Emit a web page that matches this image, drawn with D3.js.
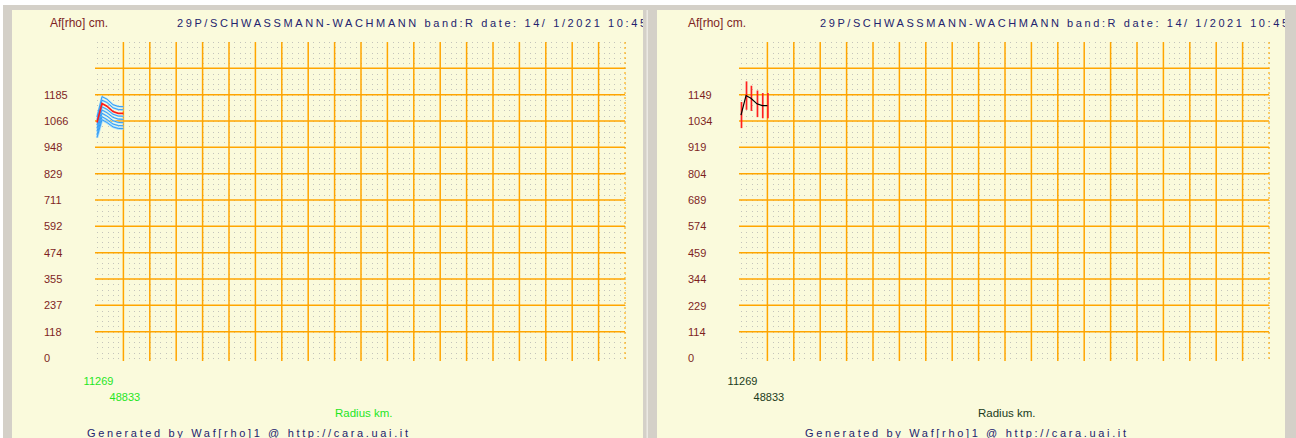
<!DOCTYPE html>
<html>
<head>
<meta charset="utf-8">
<script src="https://cdn.jsdelivr.net/npm/d3@7/dist/d3.min.js"></script>
<style>
  html, body { margin: 0; padding: 0; background: #ffffff; }
  svg { display: block; }
  text { font-family: "Liberation Sans", Arial, sans-serif; }
</style>
</head>
<body>
<svg id="chart" width="1296" height="438"></svg>
<script>
// ---------------- DATA ----------------
const titleText = "29P/SCHWASSMANN-WACHMANN band:R date: 14/ 1/2021 10:45";
const yAxisTitle = "Af[rho] cm.";
const xAxisTitle = "Radius km.";
const footerText = "Generated by Waf[rho]1 @ http://cara.uai.it";

// radii of the measured points (km)
const radii = [11269, 18400, 25400, 34000, 41500, 48833];
// x tick labels (first and last radius)
const xTickValues = [11269, 48833];

// mean Af[rho] profile (cm)
const afMean = [1060, 1145, 1133, 1109, 1101, 1101];
// error half-widths for the right panel
const afErr = [57, 62, 55, 58, 55, 55];

// family of Af[rho] profiles drawn in blue on the left panel
const afBlue1 = [1085, 1176, 1165, 1140, 1132, 1131];
const afBlue2 = [1072, 1160, 1150, 1126, 1118, 1117];
const afBlue3 = [1048, 1130, 1119, 1097, 1089, 1088];
const afBlue4 = [1034, 1116, 1104, 1083, 1075, 1074];
const afBlue5 = [1020, 1101, 1089, 1068, 1060, 1059];
const afBlue6 = [1005, 1086, 1073, 1053, 1046, 1045];
const afBlue7 = [992, 1072, 1060, 1040, 1033, 1032];
const blueSeries = [afBlue1, afBlue2, afBlue3, afBlue4, afBlue5, afBlue6, afBlue7];

// y tick labels
const yTicksLeft = [0, 118, 237, 355, 474, 592, 711, 829, 948, 1066, 1185];
const yTicksRight = [0, 114, 229, 344, 459, 574, 689, 804, 919, 1034, 1149];
// y axis maxima (12 grid cells)
const yMaxLeft = 1422;
const yMaxRight = 1378.8;
// x axis: 20 grid cells, each one radius step wide
const xStepKm = 37564;
const xCells = 20;
const yCells = 12;

// ---------------- DRAW ----------------
const svg = d3.select("#chart");

// window chrome
svg.append("rect").attr("x", 3).attr("y", 5).attr("width", 1293).attr("height", 433).attr("fill", "#d4d0c8");
svg.append("rect").attr("x", 646.5).attr("y", 10).attr("width", 1.5).attr("height", 428).attr("fill", "#ebe9e3");

const panels = [
  { rect: [12, 10, 631, 428], plotX: [97, 625], yMax: yMaxLeft, yTicks: yTicksLeft, tickX: 44,
    afX: 50, titleX: 177, titleLen: 469, radiusX: 335, footX: 87,
    xLabelColor: "#1ee61e", mode: "blue", clipId: "clipL" },
  { rect: [657, 10, 628, 428], plotX: [741, 1269], yMax: yMaxRight, yTicks: yTicksRight, tickX: 688,
    afX: 688, titleX: 820, titleLen: 468, radiusX: 978, footX: 805,
    xLabelColor: "#203a20", mode: "err", clipId: "clipR" }
];

const defs = svg.append("defs");

panels.forEach(p => {
  const [rx, ry, rw, rh] = p.rect;
  defs.append("clipPath").attr("id", p.clipId)
    .append("rect").attr("x", rx).attr("y", ry).attr("width", rw).attr("height", rh);

  const g = svg.append("g").attr("clip-path", `url(#${p.clipId})`);
  g.append("rect").attr("x", rx).attr("y", ry).attr("width", rw).attr("height", rh).attr("fill", "#fafadc");

  const top = 42, bottom = 358;
  const x = d3.scaleLinear().domain([radii[0], radii[0] + xCells * xStepKm]).range(p.plotX);
  const y = d3.scaleLinear().domain([0, p.yMax]).range([bottom, top]);

  // minor dot grid
  const minorX = d3.range(0, xCells * 5 + 1).map(i => radii[0] + i * xStepKm / 5);
  const minorY = d3.range(0, yCells * 5 + 1).map(j => j * p.yMax / (yCells * 5));
  const dots = [];
  minorX.forEach(mx => minorY.forEach(my => dots.push([mx, my])));
  g.append("g").selectAll("rect").data(dots).join("rect")
    .attr("x", d => Math.round(x(d[0]))).attr("y", d => Math.round(y(d[1])))
    .attr("width", 1).attr("height", 1).attr("fill", "#c4c4bb");

  // major orange grid
  const majorY = d3.range(1, yCells).map(k => k * p.yMax / yCells);
  g.append("g").selectAll("line").data(majorY).join("line")
    .attr("x1", p.plotX[0] - 2).attr("x2", p.plotX[1])
    .attr("y1", d => y(d)).attr("y2", d => y(d))
    .attr("stroke", "#ffa500").attr("stroke-width", 1.5);
  const majorX = d3.range(1, xCells + 1).map(i => radii[0] + i * xStepKm);
  g.append("g").selectAll("line").data(majorX).join("line")
    .attr("x1", d => x(d)).attr("x2", d => x(d))
    .attr("y1", top).attr("y2", bottom + 3)
    .attr("stroke", "#ffa500").attr("stroke-width", 1.5)
    .attr("stroke-dasharray", (d, i) => i === xCells - 1 ? "2,3" : null)
    .attr("opacity", (d, i) => i === xCells - 1 ? 0.7 : 1);

  // y axis labels
  const yAxis = d3.axisLeft(y).tickValues(p.yTicks).tickSize(0).tickPadding(0).tickFormat(d3.format("d"));
  const ya = g.append("g").attr("transform", `translate(${p.tickX},0)`).call(yAxis);
  ya.select(".domain").remove();
  ya.selectAll("text").attr("text-anchor", "start").attr("x", 0)
    .attr("font-family", "'Liberation Sans', Arial, sans-serif").attr("font-size", 11).attr("fill", "#7e1f1f");

  // x axis labels (staggered)
  const xAxis = d3.axisBottom(x).tickValues(xTickValues).tickSize(0).tickPadding(0).tickFormat(d3.format("d"));
  const xa = g.append("g").attr("transform", "translate(1,0)").call(xAxis);
  xa.select(".domain").remove();
  xa.selectAll("text").attr("y", (d, i) => i === 0 ? 385 : 401).attr("dy", null)
    .attr("font-family", "'Liberation Sans', Arial, sans-serif").attr("font-size", 11).attr("fill", p.xLabelColor);

  // texts
  g.append("text").attr("x", p.afX).attr("y", 27).attr("font-size", 12).attr("fill", "#7e1f1f").text(yAxisTitle);
  g.append("text").attr("x", p.titleX).attr("y", 27).attr("font-size", 11).attr("fill", "#23236e")
    .attr("textLength", p.titleLen).attr("lengthAdjust", "spacing").text(titleText);
  g.append("text").attr("x", p.radiusX).attr("y", 417).attr("font-size", 11.5).attr("fill", p.xLabelColor).text(xAxisTitle);
  g.append("text").attr("x", p.footX).attr("y", 437).attr("font-size", 11).attr("fill", "#23236e")
    .attr("textLength", 321).attr("lengthAdjust", "spacing").text(footerText);

  const line = d3.line().x((d, i) => x(radii[i])).y(d => y(d));

  if (p.mode === "blue") {
    const bl = g.append("g");
    blueSeries.forEach((s, k) => {
      bl.append("path").attr("d", line(s)).attr("fill", "none")
        .attr("stroke", "#a6ddff").attr("stroke-width", k === blueSeries.length - 1 ? 2.6 : 2);
    });
    blueSeries.forEach(s => {
      bl.append("path").attr("d", line(s)).attr("fill", "none")
        .attr("stroke", "#2a96f0").attr("stroke-width", 0.9);
    });
    g.append("path").attr("d", line(afMean)).attr("fill", "none")
      .attr("stroke", "#ff1a1a").attr("stroke-width", 1.6);
  } else {
    g.append("g").selectAll("line").data(afMean).join("line")
      .attr("x1", (d, i) => x(radii[i]) + 0.5).attr("x2", (d, i) => x(radii[i]) + 0.5)
      .attr("y1", (d, i) => y(d + afErr[i])).attr("y2", (d, i) => y(d - afErr[i]))
      .attr("stroke", "#ff2020").attr("stroke-width", 1.7);
    g.append("path").attr("d", line(afMean)).attr("fill", "none")
      .attr("stroke", "#000").attr("stroke-width", 1.2);
  }
});
</script>
</body>
</html>
